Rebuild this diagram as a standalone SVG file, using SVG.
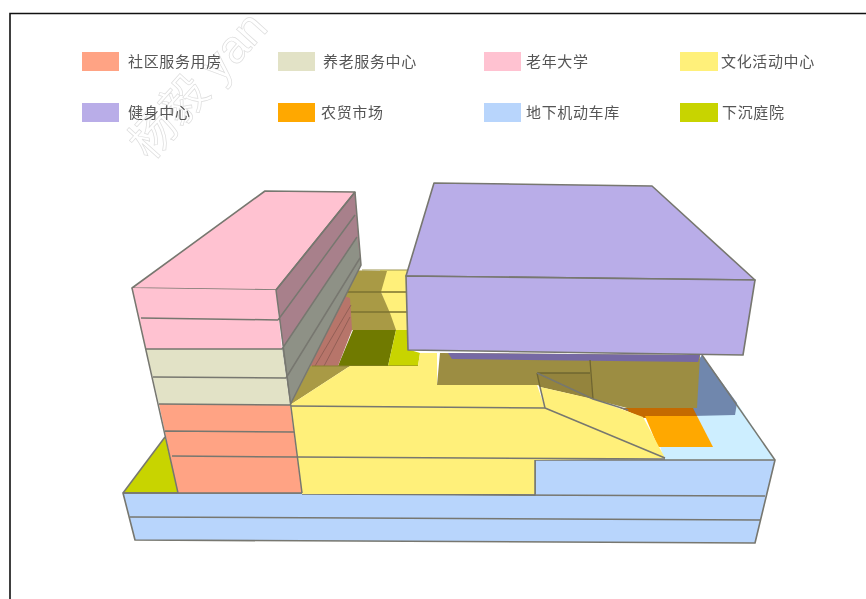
<svg xmlns="http://www.w3.org/2000/svg" width="866" height="599" viewBox="0 0 866 599">
<style>
text{font-family:"Liberation Sans","Noto Sans CJK SC",sans-serif}
.lg{font-size:15px;letter-spacing:.65px;fill:#555}
.wm{font-size:46px;fill:none;stroke:#ddd;stroke-width:.7}
.e{stroke:#77776f;stroke-width:1.6;stroke-linejoin:round}
.l{stroke:#77776f;stroke-width:1.5;fill:none}
.salmon{fill:#ffa384}.beige{fill:#e2e2c6}.pink{fill:#ffc2d1}.yellow{fill:#fff07a}.purple{fill:#b9ade8}.orange{fill:#ffa800}.blue{fill:#b8d5fc}.green{fill:#c8d400}
</style>
<defs><filter id="b" x="-2%" y="-2%" width="104%" height="104%"><feGaussianBlur stdDeviation="0.55"/></filter></defs>
<rect width="866" height="599" fill="#fff"/>
<path d="M10 599V13.500H866" fill="none" stroke="#111" stroke-width="1.6"/>
<g id="watermark" filter="url(#b)"><text class="wm" transform="translate(150 162) rotate(-48)">杨毅 yan</text></g>
<g id="legend" filter="url(#b)">
<g id="legend-1"><rect class="salmon" x="82" y="52" width="37" height="19"/><text class="lg" x="128" y="67">社区服务用房</text></g>
<g id="legend-2"><rect class="beige" x="278" y="52" width="37" height="19"/><text class="lg" x="323" y="67">养老服务中心</text></g>
<g id="legend-3"><rect class="pink" x="484" y="52" width="37" height="19"/><text class="lg" x="526" y="67">老年大学</text></g>
<g id="legend-4"><rect class="yellow" x="680" y="52" width="38" height="19"/><text class="lg" x="721" y="67">文化活动中心</text></g>
<g id="legend-5"><rect class="purple" x="82" y="103" width="37" height="19"/><text class="lg" x="128" y="118">健身中心</text></g>
<g id="legend-6"><rect class="orange" x="278" y="103" width="37" height="19"/><text class="lg" x="321" y="118">农贸市场</text></g>
<g id="legend-7"><rect class="blue" x="484" y="103" width="37" height="19"/><text class="lg" x="526" y="118">地下机动车库</text></g>
<g id="legend-8"><rect class="green" x="680" y="103" width="38" height="19"/><text class="lg" x="722" y="118">下沉庭院</text></g>
</g>
<g id="model" filter="url(#b)">
<g id="base">
<polygon points="664,460 650,410 737,403 775,460" fill="#cdeeff"/>
<polygon points="702,355 737,403 735,415 692,416 697,362" fill="#6f87ad"/>
<path class="l" d="M702,355L775,460"/>
<polygon class="green" points="123,493 165,437 180,493"/>
<path class="l" d="M123,493L165,437"/>
<polygon class="e blue" points="123,493 302,493 535,495 535,460 775,460 755,543 135,540"/>
<path class="l" d="M130,517L760,520M302,494L765,496"/>
</g>
<g id="market">
<polygon points="620,408 693,408 697,416 643,418" fill="#c46a00"/>
<polygon class="orange" points="645,416 697,416 713,447 658,447"/>
</g>
<g id="backwall">
<polygon points="440,353 700,355 697,408 627,408 537,385 437,385" fill="#9c8d42"/>
<polygon points="448,353 700,355 698,362 452,359" fill="#7669a4"/>
<polygon class="yellow" points="380,270 408,270 408,332 396,332 381,292"/>
<polygon points="340,270 387,271 381,292 390,313 396,330 353,330 330,330" fill="#a99a45"/>
<path d="M345,292H408M345,312H408" stroke="#7c7230" stroke-width="1.5" fill="none"/>
<path d="M362,270H408" stroke="#9c9550" stroke-width="1" fill="none"/>
<polygon points="353,330 396,330 388,366 338,366" fill="#6f7a00"/>
<polygon class="green" points="396,330 410,330 410,350 420,353 418,366 388,366"/>
<polygon points="344,296 350,298 352,330 338,366 310,366" fill="#b7746b"/>
<path d="M350,317L324,366M351,305L315,366" stroke="#936055" fill="none"/>
<polygon points="290,405 310,366 350,366" fill="#a99a45"/>
<path d="M312,366H418" stroke="#8a8030" fill="none"/>
</g>
<g id="cultural">
<polygon class="yellow" points="290,405 350,366 418,366 420,353 437,353 437,385 537,385 545,408 665,458 535,460 535,494 302,494"/>
<path class="l" d="M291,406L545,408M297,457L665,459M535,460V494" stroke="#8c8a58"/>
<polygon points="537,373 590,373 593,399 540,387" fill="#94843c"/>
<path d="M537,373H590M590,360L593,399M537,373L540,387" stroke="#6f6530" stroke-width="1.3" fill="none"/>
<polygon class="yellow" points="540,387 593,399 643,417 665,458 545,408"/>
<path class="l" d="M537,373L593,399L628,410M545,408L665,458M540,387L545,408"/>
</g>
<g id="tower">
<polygon points="355,192 361,265 290,405 276,290" fill="#a8808b"/>
<polygon points="357,237 361,265 290,405 282,349" fill="#8e9186"/>
<polygon class="e pink" points="265,191 355,192 276,290 132,288"/>
<polygon class="pink" points="132,288 276,290 282,349 146,349"/>
<polygon class="beige" points="146,349 282,349 290,405 159,404"/>
<polygon class="salmon" points="159,404 290,405 302,493 178,493"/>
<path class="l" d="M132,288L178,493M276,290L302,493M355,192L361,265L290,405M355,192L276,290M141,318L278,320M146,349L282,349M153,377L286,378M159,404L290,405M165,431L294,432M172,456L297,457M278,320L355,215M282,349L357,237M286,378L360,258M123,493H302"/>
</g>
<g id="fitness">
<polygon class="e purple" points="434,183 652,186 755,280 406,276"/>
<polygon class="e purple" points="406,276 755,280 743,355 408,350"/>
</g>
</g>
</svg>
